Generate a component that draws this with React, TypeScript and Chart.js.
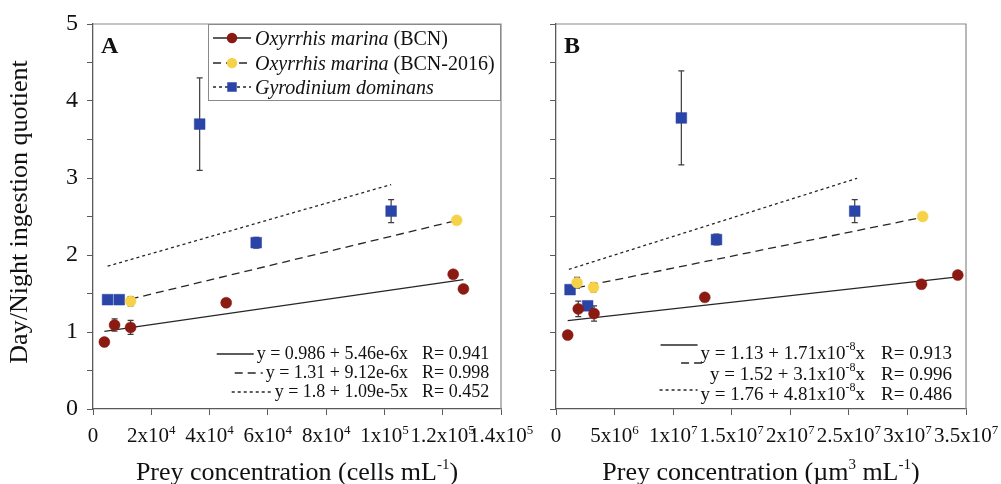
import { useEffect, useRef } from "react";
import { Chart, registerables } from "chart.js";

Chart.register(...registerables);

const SERIF = '"Liberation Serif", "Times New Roman", Times, serif';

// ---------- Panel A: prey abundance (cells mL-1) ----------
const bcnCellsX = [3900, 7400, 12900, 45700, 123600, 127100];
const bcnCellsY = [0.87, 1.09, 1.06, 1.38, 1.75, 1.56];
const bcnCellsErr = [0, 0.08, 0.09, 0, 0, 0];

const bcn2016CellsX = [12900, 124800];
const bcn2016CellsY = [1.4, 2.45];
const bcn2016CellsErr = [0.06, 0.03];

const gdomCellsX = [5000, 9000, 36600, 56000, 102300];
const gdomCellsY = [1.42, 1.42, 3.7, 2.16, 2.57];
const gdomCellsErr = [0.02, 0.03, 0.6, 0.07, 0.15];

// ---------- Panel B: prey biovolume (um3 mL-1) ----------
const bcnVolX = [1.0e6, 1.9e6, 3.25e6, 1.27e7, 3.12e7, 3.43e7];
const bcnVolY = [0.96, 1.3, 1.24, 1.45, 1.62, 1.74];
const bcnVolErr = [0.05, 0.1, 0.1, 0, 0, 0];

const bcn2016VolX = [1.8e6, 3.2e6, 3.13e7];
const bcn2016VolY = [1.64, 1.58, 2.5];
const bcn2016VolErr = [0.07, 0.06, 0.03];

const gdomVolX = [1.2e6, 2.7e6, 1.07e7, 1.37e7, 2.55e7];
const gdomVolY = [1.55, 1.34, 3.78, 2.2, 2.57];
const gdomVolErr = [0.02, 0.05, 0.61, 0.07, 0.15];

// ---------- Linear regressions (BCN, BCN-2016, G. dominans) ----------
const fitCellsIntercept = [0.986, 1.31, 1.8];
const fitCellsSlope = [5.46e-6, 9.12e-6, 1.09e-5];
const fitCellsXStart = [3900, 12900, 5000];
const fitCellsXEnd = [127100, 124800, 102300];
const fitCellsR = ["0.941", "0.998", "0.452"];

const fitVolIntercept = [1.13, 1.52, 1.76];
const fitVolSlope = [1.71e-8, 3.1e-8, 4.81e-8];
const fitVolXStart = [1.0e6, 1.8e6, 1.1e6];
const fitVolXEnd = [3.43e7, 3.13e7, 2.57e7];
const fitVolR = ["0.913", "0.996", "0.486"];

// ---------- Tick labels ----------
const cellsTickBase = ["0", "2x10", "4x10", "6x10", "8x10", "1x10", "1.2x10", "1.4x10"];
const cellsTickExp = ["", "4", "4", "4", "4", "5", "5", "5"];
const volTickBase = ["0", "5x10", "1x10", "1.5x10", "2x10", "2.5x10", "3x10", "3.5x10"];
const volTickExp = ["", "6", "7", "7", "7", "7", "7", "7"];

const RED = "#8a1a12";
const YELLOW = "#f6d24a";
const BLUE = "#2a44a8";
const LINE = "#262626";
const AXIS = "#5a5a5a";
const DASHES: number[][] = [[], [8, 5], [3, 3]];

type Run = { t: string; size: number; style?: string; weight?: string; rise?: number };

function setFont(ctx: CanvasRenderingContext2D, r: Run) {
  ctx.font = `${r.style || "normal"} ${r.weight || "normal"} ${r.size}px ${SERIF}`;
}

function runsWidth(ctx: CanvasRenderingContext2D, runs: Run[]) {
  let w = 0;
  for (const r of runs) {
    setFont(ctx, r);
    w += ctx.measureText(r.t).width;
  }
  return w;
}

// draws a run of mixed text; returns the left x where it started
function drawRuns(
  ctx: CanvasRenderingContext2D,
  runs: Run[],
  x: number,
  y: number,
  align: "left" | "center" | "right"
) {
  const w = runsWidth(ctx, runs);
  const start = align === "left" ? x : align === "center" ? x - w / 2 : x - w;
  let cx = start;
  ctx.textAlign = "left";
  ctx.textBaseline = "alphabetic";
  for (const r of runs) {
    setFont(ctx, r);
    ctx.fillText(r.t, cx, y - (r.rise || 0));
    cx += ctx.measureText(r.t).width;
  }
  return start;
}

function drawMarker(ctx: CanvasRenderingContext2D, kind: string, x: number, y: number, color: string, size: number) {
  ctx.fillStyle = color;
  ctx.beginPath();
  if (kind === "rect") ctx.rect(x - size / 2, y - size / 2, size, size);
  else ctx.arc(x, y, size / 2, 0, Math.PI * 2);
  ctx.fill();
}

function scatterSet(label: string, xs: number[], ys: number[], errs: number[], color: string, style: string, radius: number) {
  return {
    label,
    data: xs.map((x, i) => ({ x, y: ys[i] })),
    errors: errs,
    pointStyle: style,
    pointRadius: radius,
    pointHoverRadius: radius,
    backgroundColor: color,
    borderColor: color,
    borderWidth: 0.5,
    showLine: false,
  };
}

function fitSet(a: number, b: number, x0: number, x1: number, dash: number[]) {
  return {
    label: "fit",
    data: [
      { x: x0, y: a + b * x0 },
      { x: x1, y: a + b * x1 },
    ],
    showLine: true,
    pointRadius: 0,
    pointHoverRadius: 0,
    borderColor: LINE,
    borderWidth: 1.3,
    borderDash: dash,
    fill: false,
    errors: [],
  };
}

const errorBars = {
  id: "errorBars",
  beforeDatasetsDraw(chart: any) {
    const { ctx, scales } = chart;
    const xs = scales.x;
    const ys = scales.y;
    ctx.save();
    ctx.strokeStyle = "#3c3c3c";
    ctx.lineWidth = 1.2;
    chart.data.datasets.forEach((ds: any) => {
      (ds.errors || []).forEach((e: number, i: number) => {
        if (!e) return;
        const p = ds.data[i];
        const px = xs.getPixelForValue(p.x);
        const top = ys.getPixelForValue(p.y + e);
        const bot = ys.getPixelForValue(p.y - e);
        ctx.beginPath();
        ctx.moveTo(px, top);
        ctx.lineTo(px, bot);
        ctx.moveTo(px - 3, top);
        ctx.lineTo(px + 3, top);
        ctx.moveTo(px - 3, bot);
        ctx.lineTo(px + 3, bot);
        ctx.stroke();
      });
    });
    ctx.restore();
  },
};

type EqRow = { main: Run[]; r: string };
type PanelDeco = {
  tag: string;
  tickBase: string[];
  tickExp: string[];
  xTitle: Run[];
  yTitle: boolean;
  legend: boolean;
  eqRows: EqRow[];
  eqBaselines: number[];
  eqRight: number;
  rLeft: number;
  eqSize: number;
  sampleLen: number[];
  sampleDy: number[];
};

function decoPlugin(d: PanelDeco) {
  return {
    id: "panelDeco",
    afterDraw(chart: any) {
      const { ctx, chartArea, scales } = chart;
      const { left, right, top, bottom } = chartArea;
      ctx.save();

      // frame: top and right sides
      ctx.strokeStyle = "#8a8a8a";
      ctx.lineWidth = 1.2;
      ctx.beginPath();
      ctx.moveTo(left, top);
      ctx.lineTo(right, top);
      ctx.lineTo(right, bottom);
      ctx.stroke();

      ctx.fillStyle = "#111";

      // x tick labels with powers of ten
      scales.x.ticks.forEach((t: any, i: number) => {
        const px = scales.x.getPixelForValue(t.value);
        const runs: Run[] = [{ t: d.tickBase[i] ?? "", size: 21 }];
        if (d.tickExp[i]) runs.push({ t: d.tickExp[i], size: 13, rise: 8 });
        drawRuns(ctx, runs, px, 442, "center");
      });

      // axis titles
      drawRuns(ctx, d.xTitle, (left + right) / 2, 480, "center");
      if (d.yTitle) {
        ctx.save();
        ctx.translate(27, 212);
        ctx.rotate(-Math.PI / 2);
        drawRuns(ctx, [{ t: "Day/Night ingestion quotient", size: 26 }], 0, 0, "center");
        ctx.restore();
      }

      // panel letter
      drawRuns(ctx, [{ t: d.tag, size: 24, weight: "bold" }], left + 8, 53, "left");

      // legend box
      if (d.legend) {
        const bx = 208;
        ctx.fillStyle = "#ffffff";
        ctx.fillRect(bx, top, right - bx, 100 - top);
        ctx.strokeStyle = "#8a8a8a";
        ctx.lineWidth = 1;
        ctx.strokeRect(bx + 0.5, top + 0.5, right - bx - 1, 100 - top);
        const entries = [
          { runs: [{ t: "Oxyrrhis marina", size: 20, style: "italic" }, { t: " (BCN)", size: 20 }], color: RED, kind: "circle", size: 10.5 },
          { runs: [{ t: "Oxyrrhis marina", size: 20, style: "italic" }, { t: " (BCN-2016)", size: 20 }], color: YELLOW, kind: "circle", size: 10.5 },
          { runs: [{ t: "Gyrodinium dominans", size: 20, style: "italic" }], color: BLUE, kind: "rect", size: 9.5 },
        ];
        const rowsY = [38, 63, 87];
        entries.forEach((e, i) => {
          const cy = rowsY[i];
          ctx.strokeStyle = LINE;
          ctx.lineWidth = 1.3;
          ctx.setLineDash(DASHES[i]);
          ctx.beginPath();
          ctx.moveTo(213, cy);
          ctx.lineTo(251, cy);
          ctx.stroke();
          ctx.setLineDash([]);
          drawMarker(ctx, e.kind, 232, cy, e.color, e.size);
          ctx.fillStyle = "#111";
          drawRuns(ctx, e.runs as Run[], 255, cy + 7, "left");
        });
      }

      // regression equations
      d.eqRows.forEach((row, i) => {
        const base = d.eqBaselines[i];
        ctx.fillStyle = "#111";
        const start = drawRuns(ctx, row.main, d.eqRight, base, "right");
        drawRuns(ctx, [{ t: "R= " + row.r, size: d.eqSize }], d.rLeft, base, "left");
        const sy = base - 5 + d.sampleDy[i];
        ctx.strokeStyle = LINE;
        ctx.lineWidth = 1.3;
        ctx.setLineDash(DASHES[i]);
        ctx.beginPath();
        ctx.moveTo(start - 3 - d.sampleLen[i], sy);
        ctx.lineTo(start - 3, sy);
        ctx.stroke();
        ctx.setLineDash([]);
      });

      ctx.restore();
    },
  };
}

function axisOptions(xMax: number, xStep: number, yWidth: number, showYLabels: boolean) {
  return {
    x: {
      type: "linear",
      min: 0,
      max: xMax,
      afterFit: (s: any) => {
        s.height = 75;
      },
      ticks: { display: false, stepSize: xStep },
      grid: { drawOnChartArea: false, drawTicks: true, tickLength: 6, color: AXIS, tickColor: AXIS },
      border: { display: true, color: AXIS, width: 1.3 },
    },
    y: {
      type: "linear",
      min: 0,
      max: 5,
      afterFit: (s: any) => {
        s.width = yWidth;
      },
      ticks: {
        display: showYLabels,
        stepSize: 0.5,
        padding: 9,
        color: "#111",
        font: { family: SERIF, size: 24 },
        callback: (v: any) => (Number.isInteger(v) ? String(v) : ""),
      },
      grid: { drawOnChartArea: false, drawTicks: true, tickLength: 6, color: AXIS, tickColor: AXIS },
      border: { display: true, color: AXIS, width: 1.3 },
    },
  };
}

function cellsEqRows(): EqRow[] {
  return fitCellsIntercept.map((a, i) => ({
    main: [{ t: `y = ${a} + ${fitCellsSlope[i].toExponential()}x`, size: 18 }],
    r: fitCellsR[i],
  }));
}

function volEqRows(): EqRow[] {
  return fitVolIntercept.map((a, i) => {
    const [m, e] = fitVolSlope[i].toExponential().split("e");
    return {
      main: [
        { t: `y = ${a} + ${m}x10`, size: 19 },
        { t: e, size: 12, rise: 9 },
        { t: "x", size: 19 },
      ],
      r: fitVolR[i],
    };
  });
}

export default function App() {
  const refA = useRef<HTMLCanvasElement>(null);
  const refB = useRef<HTMLCanvasElement>(null);

  useEffect(() => {
    const chartA = new Chart(refA.current as HTMLCanvasElement, {
      type: "scatter",
      data: {
        datasets: [
          scatterSet("Oxyrrhis marina (BCN)", bcnCellsX, bcnCellsY, bcnCellsErr, RED, "circle", 5.5),
          scatterSet("Oxyrrhis marina (BCN-2016)", bcn2016CellsX, bcn2016CellsY, bcn2016CellsErr, YELLOW, "circle", 5.5),
          scatterSet("Gyrodinium dominans", gdomCellsX, gdomCellsY, gdomCellsErr, BLUE, "rect", 7.6),
          ...fitCellsIntercept.map((a, i) => fitSet(a, fitCellsSlope[i], fitCellsXStart[i], fitCellsXEnd[i], DASHES[i])),
        ] as any,
      },
      options: {
        responsive: false,
        animation: false,
        layout: { padding: { left: 0, right: 44, top: 24, bottom: 0 } },
        plugins: { legend: { display: false }, tooltip: { enabled: false } },
        scales: axisOptions(1.4e5, 2e4, 93, true) as any,
      },
      plugins: [
        errorBars,
        decoPlugin({
          tag: "A",
          tickBase: cellsTickBase,
          tickExp: cellsTickExp,
          xTitle: [
            { t: "Prey concentration (cells mL", size: 26 },
            { t: "-1", size: 15, rise: 11 },
            { t: ")", size: 26 },
          ],
          yTitle: true,
          legend: true,
          eqRows: cellsEqRows(),
          eqBaselines: [359, 378, 397],
          eqRight: 408,
          rLeft: 422,
          eqSize: 18,
          sampleLen: [37, 28, 40],
          sampleDy: [0, 0, 0],
        }),
      ],
    });

    const chartB = new Chart(refB.current as HTMLCanvasElement, {
      type: "scatter",
      data: {
        datasets: [
          scatterSet("Oxyrrhis marina (BCN)", bcnVolX, bcnVolY, bcnVolErr, RED, "circle", 5.5),
          scatterSet("Oxyrrhis marina (BCN-2016)", bcn2016VolX, bcn2016VolY, bcn2016VolErr, YELLOW, "circle", 5.5),
          scatterSet("Gyrodinium dominans", gdomVolX, gdomVolY, gdomVolErr, BLUE, "rect", 7.6),
          ...fitVolIntercept.map((a, i) => fitSet(a, fitVolSlope[i], fitVolXStart[i], fitVolXEnd[i], DASHES[i])),
        ] as any,
      },
      options: {
        responsive: false,
        animation: false,
        layout: { padding: { left: 0, right: 35, top: 24, bottom: 0 } },
        plugins: { legend: { display: false }, tooltip: { enabled: false } },
        scales: axisOptions(3.5e7, 5e6, 36, false) as any,
      },
      plugins: [
        errorBars,
        decoPlugin({
          tag: "B",
          tickBase: volTickBase,
          tickExp: volTickExp,
          xTitle: [
            { t: "Prey concentration (\u00b5m", size: 26 },
            { t: "3", size: 15, rise: 11 },
            { t: " mL", size: 26 },
            { t: "-1", size: 15, rise: 11 },
            { t: ")", size: 26 },
          ],
          yTitle: false,
          legend: false,
          eqRows: volEqRows(),
          eqBaselines: [359, 380, 400],
          eqRight: 345,
          rLeft: 361,
          eqSize: 19,
          sampleLen: [37, 26, 38],
          sampleDy: [-9, -12, -5],
        }),
      ],
    });

    return () => {
      chartA.destroy();
      chartB.destroy();
    };
  }, []);

  return (
    <div style={{ position: "absolute", left: 0, top: 0, width: 1001, height: 484, background: "#fff", overflow: "hidden" }}>
      <canvas ref={refA} width={545} height={484} style={{ position: "absolute", left: 0, top: 0 }} />
      <canvas ref={refB} width={481} height={484} style={{ position: "absolute", left: 520, top: 0 }} />
    </div>
  );
}
